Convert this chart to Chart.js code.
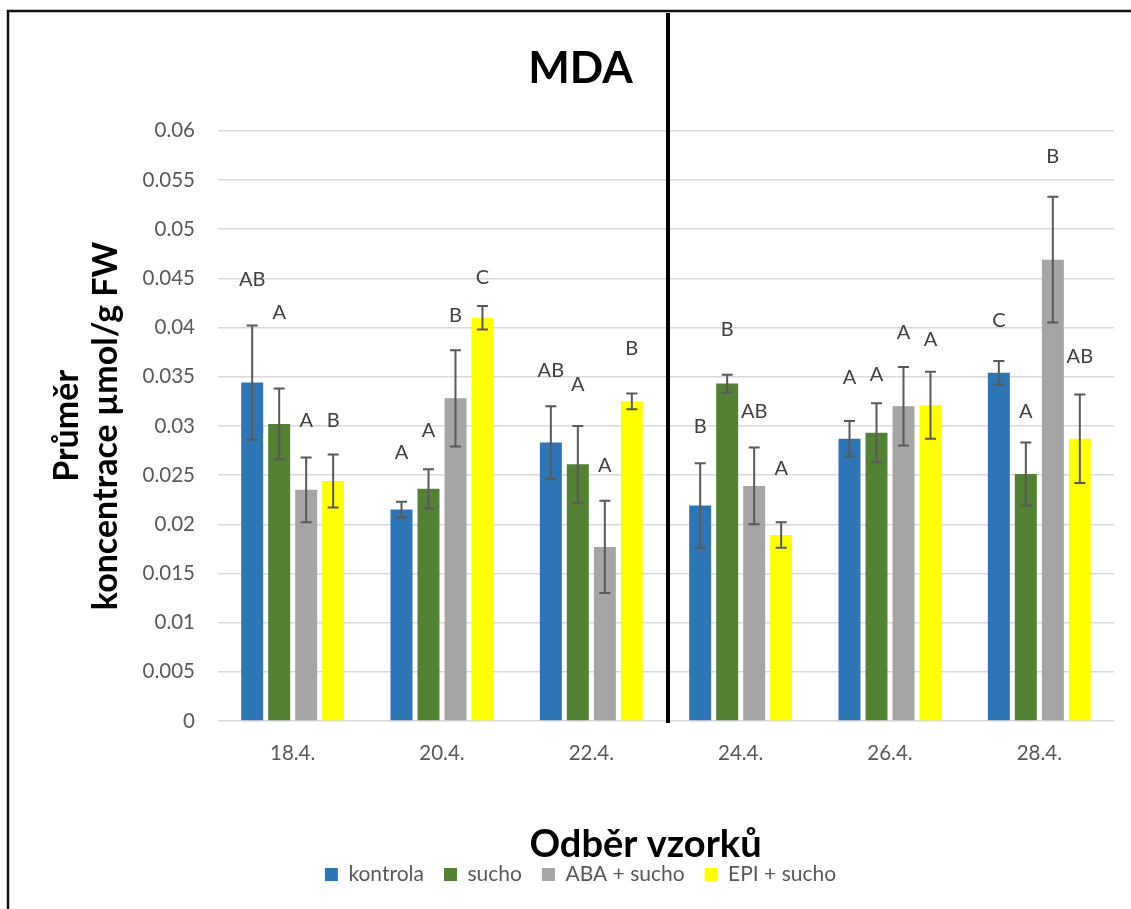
<!DOCTYPE html>
<html><head><meta charset="utf-8">
<script src="https://cdn.jsdelivr.net/npm/chart.js@4.4.1/dist/chart.umd.min.js"></script>
<style>html,body{margin:0;padding:0;background:#fff}#wrap{width:1131px;height:909px;position:relative}</style>
</head><body><div id="wrap"><canvas id="c" width="1131" height="909"></canvas></div>
<script>
const categories = ['18.4.','20.4.','22.4.','24.4.','26.4.','28.4.'];
const seriesNames = ['kontrola','sucho','ABA + sucho','EPI + sucho'];
const kontrola = [0.0344,0.0215,0.0283,0.0219,0.0287,0.0354];
const sucho    = [0.0302,0.0236,0.0261,0.0343,0.0293,0.0251];
const abaSucho = [0.0235,0.0328,0.0177,0.0239,0.0320,0.0469];
const epiSucho = [0.0244,0.0410,0.0325,0.0189,0.0321,0.0287];
const errKontrola = [0.0058,0.0008,0.0037,0.0043,0.0018,0.0012];
const errSucho    = [0.0036,0.0020,0.0039,0.0009,0.0030,0.0032];
const errAba      = [0.0033,0.0049,0.0047,0.0039,0.0040,0.0064];
const errEpi      = [0.0027,0.0012,0.0008,0.0013,0.0034,0.0045];
const letKontrola = ['AB','A','AB','B','A','C'];
const letSucho    = ['A','A','A','B','A','A'];
const letAba      = ['A','B','A','AB','A','B'];
const letEpi      = ['B','C','B','A','A','AB'];
const letYKontrola = [0.0449,0.0273,0.0356,0.0299,0.0349,0.0407];
const letYSucho    = [0.0415,0.0295,0.0342,0.0398,0.0352,0.0315];
const letYAba      = [0.0305,0.0412,0.0260,0.0315,0.0395,0.0574];
const letYEpi      = [0.0305,0.0451,0.0379,0.0257,0.0388,0.0371];
const yMin = 0, yMax = 0.06, yStep = 0.005;
const colors = ['#2E75B6','#548235','#A5A5A5','#FFFF00'];
const titleText = 'MDA';
const xTitleText = 'Odběr vzorků';
const yTitleLines = ['Průměr','koncentrace µmol/g FW'];

const values = [kontrola, sucho, abaSucho, epiSucho];
const errors = [errKontrola, errSucho, errAba, errEpi];
const letters = [letKontrola, letSucho, letAba, letEpi];
const letterY = [letYKontrola, letYSucho, letYAba, letYEpi];
const FONT = 'Lato';

const framePlugin = {
  id: 'frame',
  beforeDraw(chart) {
    const ctx = chart.ctx;
    ctx.save();
    ctx.fillStyle = '#fff';
    ctx.fillRect(0, 0, chart.width, chart.height);
    ctx.strokeStyle = '#111';
    ctx.lineWidth = 2.5;
    ctx.beginPath();
    ctx.moveTo(8, chart.height);
    ctx.lineTo(8, 11);
    ctx.lineTo(chart.width, 11);
    ctx.stroke();
    ctx.restore();
  }
};

const overlayPlugin = {
  id: 'overlay',
  afterDatasetsDraw(chart) {
    const ctx = chart.ctx;
    const ys = chart.scales.y, xs = chart.scales.x;
    ctx.save();
    ctx.strokeStyle = '#595959';
    ctx.lineWidth = 2;
    values.forEach((vals, di) => {
      const meta = chart.getDatasetMeta(di);
      meta.data.forEach((bar, i) => {
        const v = vals[i], e = errors[di][i];
        const x = bar.x;
        const yt = ys.getPixelForValue(v + e), yb = ys.getPixelForValue(v - e);
        ctx.beginPath();
        ctx.moveTo(x, yt); ctx.lineTo(x, yb);
        ctx.moveTo(x - 5.5, yt); ctx.lineTo(x + 5.5, yt);
        ctx.moveTo(x - 5.5, yb); ctx.lineTo(x + 5.5, yb);
        ctx.stroke();
      });
    });
    ctx.fillStyle = '#404040';
    ctx.font = '20px ' + FONT;
    ctx.textAlign = 'center';
    ctx.textBaseline = 'middle';
    letters.forEach((lets, di) => {
      const meta = chart.getDatasetMeta(di);
      meta.data.forEach((bar, i) => {
        ctx.fillText(lets[i], bar.x, ys.getPixelForValue(letterY[di][i]));
      });
    });
    const xd = (xs.getPixelForTick(2) + xs.getPixelForTick(3)) / 2 + 2;
    ctx.strokeStyle = '#000';
    ctx.lineWidth = 4;
    ctx.beginPath();
    ctx.moveTo(xd, 13);
    ctx.lineTo(xd, chart.chartArea.bottom + 2);
    ctx.stroke();
    ctx.fillStyle = '#000';
    ctx.font = 'bold 38px ' + FONT;
    ctx.fillText(xTitleText, chart.width / 2 + 80, 845);
    ctx.restore();
  }
};

new Chart(document.getElementById('c'), {
  type: 'bar',
  data: {
    labels: categories,
    datasets: seriesNames.map((n, i) => ({
      label: n,
      data: values[i],
      backgroundColor: colors[i],
      borderWidth: 0,
      categoryPercentage: 0.723,
      barPercentage: 0.815
    }))
  },
  options: {
    responsive: false,
    animation: false,
    devicePixelRatio: 1,
    layout: { padding: { left: 47, right: 17, top: 0, bottom: 14 } },
    plugins: {
      title: {
        display: true, text: titleText, color: '#000',
        font: { family: FONT, size: 44, weight: 'bold', lineHeight: 1.2 },
        padding: { top: 42, bottom: 36 }
      },
      legend: {
        position: 'bottom',
        labels: {
          font: { family: FONT, size: 21 }, color: '#595959',
          boxWidth: 13, boxHeight: 13, padding: 20
        }
      },
      tooltip: { enabled: false }
    },
    scales: {
      x: {
        grid: { display: false },
        border: { display: false },
        ticks: { font: { family: FONT, size: 20.5 }, color: '#595959', padding: 12 },
        afterFit(s) { s.height = 123; }
      },
      y: {
        min: yMin, max: yMax,
        grid: { color: '#D9D9D9', lineWidth: 1.5, drawTicks: false },
        border: { display: false },
        ticks: {
          stepSize: yStep,
          font: { family: FONT, size: 20.5 }, color: '#595959', padding: 23,
          callback: (v) => String(parseFloat(Number(v).toFixed(3)))
        },
        title: {
          display: true, text: yTitleLines, color: '#000',
          font: { family: FONT, size: 34, weight: 'bold', lineHeight: 1.15 },
          padding: { top: 0, bottom: 0 }
        },
        afterFit(s) { s.width = 171; }
      }
    }
  },
  plugins: [framePlugin, overlayPlugin]
});
</script></body></html>
